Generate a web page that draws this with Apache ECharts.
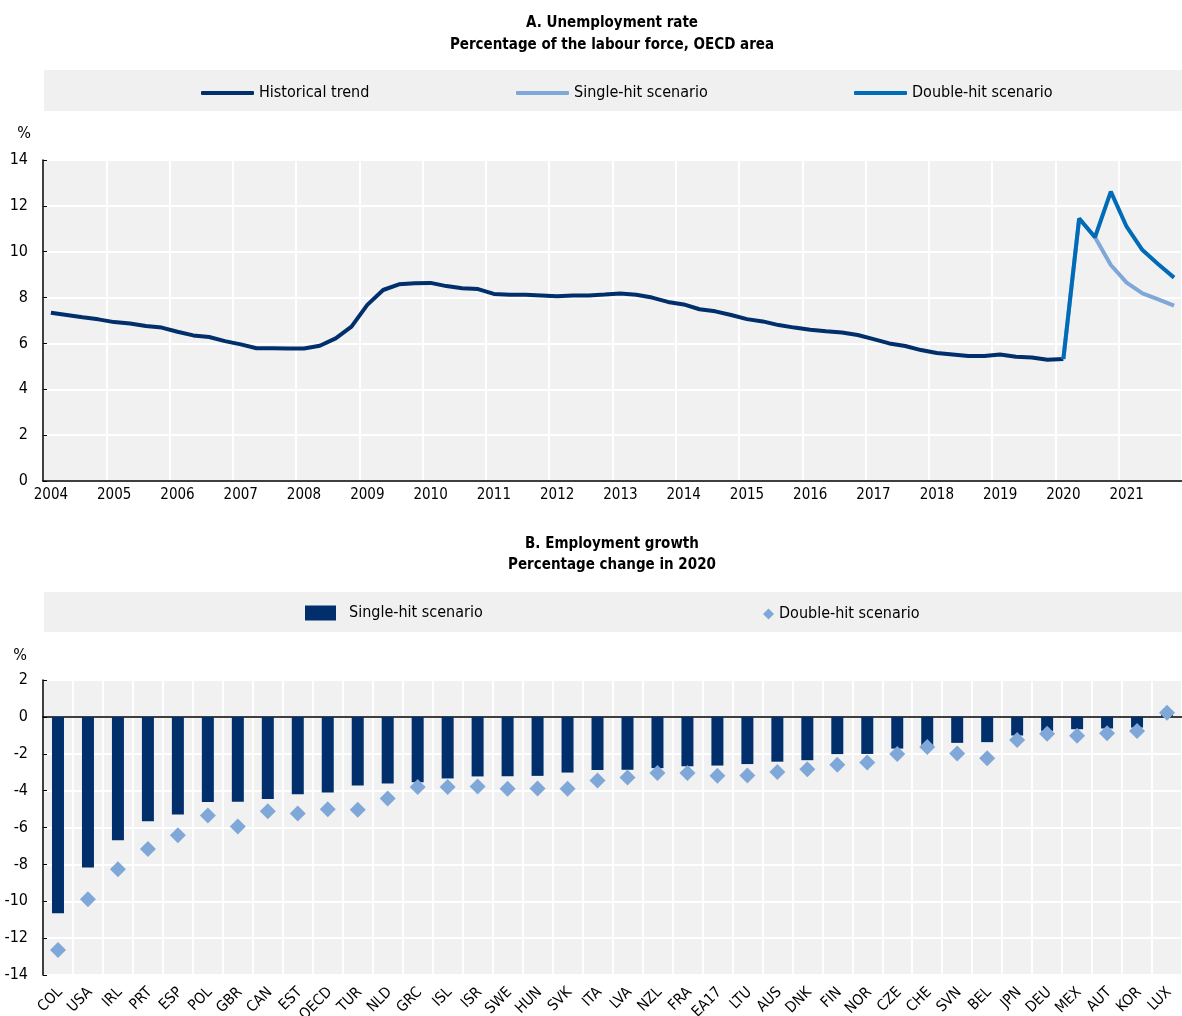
<!DOCTYPE html>
<html>
<head>
<meta charset="utf-8">
<script src="https://cdn.jsdelivr.net/npm/echarts@6/dist/echarts.min.js"></script>
<style>
  html, body { margin: 0; padding: 0; background: #fff; }
  #chart { width: 1182px; height: 1016px; }
</style>
</head>
<body>
<div id="chart"></div>
<script>
// panel A: quarterly unemployment rate, 2004Q1 .. 2021Q4
var years = ['2004','2005','2006','2007','2008','2009','2010','2011','2012',
             '2013','2014','2015','2016','2017','2018','2019','2020','2021'];
// 2004Q1 .. 2020Q1
var historical = [
  7.34, 7.24, 7.14, 7.05, 6.93, 6.87, 6.76, 6.69,
  6.51, 6.35, 6.28, 6.10, 5.96, 5.79, 5.79, 5.78,
  5.78, 5.90, 6.22, 6.73, 7.68, 8.33, 8.58, 8.62,
  8.64, 8.50, 8.41, 8.37, 8.16, 8.12, 8.12, 8.09,
  8.06, 8.09, 8.09, 8.13, 8.18, 8.12, 8.00, 7.81,
  7.70, 7.49, 7.40, 7.24, 7.06, 6.96, 6.80, 6.69,
  6.60, 6.53, 6.48, 6.37, 6.19, 6.00, 5.89, 5.71,
  5.58, 5.52, 5.45, 5.45, 5.52, 5.42, 5.39, 5.29,
  5.32
];
// 2020Q1 .. 2021Q4
var singleHit = [5.32, 11.45, 10.63, 9.42, 8.65, 8.18, 7.92, 7.65];
var doubleHit = [5.32, 11.45, 10.63, 12.62, 11.09, 10.07, 9.45, 8.87];
var projStart = 64;

// panel B: employment growth in 2020
var countries = ['COL','USA','IRL','PRT','ESP','POL','GBR','CAN','EST','OECD',
                 'TUR','NLD','GRC','ISL','ISR','SWE','HUN','SVK','ITA','LVA',
                 'NZL','FRA','EA17','LTU','AUS','DNK','FIN','NOR','CZE','CHE',
                 'SVN','BEL','JPN','DEU','MEX','AUT','KOR','LUX'];
var singleGrowth = [-10.65, -8.17, -6.69, -5.66, -5.30, -4.62, -4.61, -4.46, -4.19, -4.10,
                    -3.72, -3.61, -3.54, -3.34, -3.23, -3.22, -3.20, -3.02, -2.88, -2.87,
                    -2.78, -2.68, -2.64, -2.56, -2.43, -2.35, -2.02, -2.01, -1.72, -1.55,
                    -1.41, -1.37, -1.01, -0.76, -0.67, -0.63, -0.58, 0.10];
var doubleGrowth = [-12.64, -9.89, -8.26, -7.16, -6.42, -5.35, -5.95, -5.12, -5.24, -5.01,
                    -5.04, -4.43, -3.80, -3.80, -3.78, -3.90, -3.88, -3.90, -3.45, -3.29,
                    -3.05, -3.05, -3.19, -3.18, -2.99, -2.84, -2.60, -2.48, -2.02, -1.63,
                    -1.99, -2.24, -1.25, -0.92, -1.03, -0.89, -0.76, 0.23];

var quarters = [];
years.forEach(function (y) {
  ['Q1','Q2','Q3','Q4'].forEach(function (q) { quarters.push(y + '-' + q); });
});

function pad(values, start) {
  var out = [];
  for (var i = 0; i < quarters.length; i++) {
    var j = i - start;
    out.push(j >= 0 && j < values.length ? values[j] : null);
  }
  return out;
}

var FONT = '"Liberation Sans Narrow", "Arial Narrow", "DejaVu Sans Condensed", sans-serif';
var NAVY = '#002F6C', LIGHT = '#7FA8D9', MID = '#006BB6', BAND = '#F0F0F0';

var chart = echarts.init(document.getElementById('chart'));

var txt = { fontFamily: FONT, fontSize: 16, color: '#000' };

function headText(id, x, y, s, bold) {
  return { type: 'text', id: id, style: { x: x, y: y, text: s, textAlign: 'center', textVerticalAlign: 'middle',
           font: (bold ? 'bold 15px ' : '16px ') + FONT, fill: '#000' } };
}

chart.setOption({
  animation: false,
  textStyle: { fontFamily: FONT },
  graphic: [
    { type: 'rect', id: 'bandA', z: -1, shape: { x: 44, y: 70, width: 1138, height: 41 }, style: { fill: BAND } },
    { type: 'rect', id: 'bandB', z: -1, shape: { x: 44, y: 592, width: 1138, height: 40 }, style: { fill: BAND } },
    headText('t1', 612, 23, 'A. Unemployment rate', true),
    headText('t2', 612, 45, 'Percentage of the labour force, OECD area', true),
    headText('t3', 612, 544, 'B. Employment growth', true),
    headText('t4', 612, 565, 'Percentage change in 2020', true),
    headText('p1', 24, 134, '%', false),
    headText('p2', 20, 656, '%', false)
  ],
  legend: [
    { left: 201, top: 85, padding: 0, data: ['Historical trend'], icon: 'roundRect', itemWidth: 53, itemHeight: 4, textStyle: txt },
    { left: 516, top: 85, padding: 0, data: ['Single-hit scenario'], icon: 'roundRect', itemWidth: 53, itemHeight: 4, textStyle: txt },
    { left: 854, top: 85, padding: 0, data: ['Double-hit scenario'], icon: 'roundRect', itemWidth: 53, itemHeight: 4, textStyle: txt },
    { left: 305, top: 605, padding: 0, data: ['Single-hit '], icon: 'rect', itemWidth: 31, itemHeight: 15,
      textStyle: Object.assign({ padding: [0, 0, 0, 8] }, txt),
      formatter: function () { return 'Single-hit scenario'; } },
    { left: 763, top: 606, padding: 0, data: ['Double-hit '], icon: 'diamond', itemWidth: 11, itemHeight: 11,
      textStyle: txt, formatter: function () { return 'Double-hit scenario'; } }
  ],
  grid: [
    { left: 43, top: 160, width: 1146, height: 321, show: true, backgroundColor: '#F1F1F1', borderWidth: 0 },
    { left: 43, top: 680, width: 1146, height: 295, show: true, backgroundColor: '#F1F1F1', borderWidth: 0 }
  ],
  xAxis: [
    {
      gridIndex: 0, type: 'category', data: quarters, boundaryGap: true,
      axisLine: { lineStyle: { color: '#000', width: 1.5 } },
      axisTick: { interval: 3, length: 4, lineStyle: { color: '#000' } },
      axisLabel: { interval: 3, margin: 7, fontSize: 15, color: '#000', fontFamily: FONT,
                   formatter: function (v) { return v.slice(0, 4); } },
      splitLine: { show: true, interval: 3, lineStyle: { color: '#fff', width: 2 } }
    },
    {
      // zero line with upward ticks
      gridIndex: 1, type: 'category', data: countries, boundaryGap: true, position: 'bottom',
      axisLine: { onZero: true, lineStyle: { color: '#000', width: 1.5 } },
      axisTick: { inside: true, interval: 0, length: 4, lineStyle: { color: '#000' } },
      axisLabel: { show: false },
      splitLine: { show: false }
    },
    {
      // category scale for the bars; country labels are placed below (rotated)
      gridIndex: 1, type: 'category', data: countries, boundaryGap: true, position: 'bottom',
      axisLine: { show: false, onZero: false },
      axisTick: { show: false },
      axisLabel: { show: false },
      splitLine: { show: true, interval: 0, lineStyle: { color: '#fff', width: 2 } }
    }
  ],
  yAxis: [
    {
      gridIndex: 0, type: 'value', min: 0, max: 14, interval: 2,
      axisLine: { show: true, lineStyle: { color: '#000', width: 1.5 } },
      axisTick: { show: true, inside: true, length: 4, lineStyle: { color: '#000' } },
      axisLabel: { margin: 15, fontSize: 16, color: '#000', fontFamily: FONT },
      splitLine: { lineStyle: { color: '#fff', width: 2 } }
    },
    {
      gridIndex: 1, type: 'value', min: -14, max: 2, interval: 2,
      axisLine: { show: true, onZero: false, lineStyle: { color: '#000', width: 1.5 } },
      axisTick: { show: true, inside: true, length: 4, lineStyle: { color: '#000' } },
      axisLabel: { margin: 15, fontSize: 16, color: '#000', fontFamily: FONT },
      splitLine: { lineStyle: { color: '#fff', width: 2 } }
    }
  ],
  series: [
    { name: 'Historical trend', type: 'line', xAxisIndex: 0, yAxisIndex: 0, data: pad(historical, 0),
      symbol: 'none', itemStyle: { color: NAVY }, lineStyle: { color: NAVY, width: 4 } },
    { name: 'Single-hit scenario', type: 'line', xAxisIndex: 0, yAxisIndex: 0, data: pad(singleHit, projStart),
      symbol: 'none', itemStyle: { color: LIGHT }, lineStyle: { color: LIGHT, width: 4 } },
    { name: 'Double-hit scenario', type: 'line', xAxisIndex: 0, yAxisIndex: 0, data: pad(doubleHit, projStart),
      symbol: 'none', itemStyle: { color: MID }, lineStyle: { color: MID, width: 4 } },
    { name: 'Single-hit ', type: 'bar', xAxisIndex: 2, yAxisIndex: 1, data: singleGrowth,
      barWidth: 12, itemStyle: { color: NAVY } },
    { name: 'Double-hit ', type: 'scatter', xAxisIndex: 2, yAxisIndex: 1, data: doubleGrowth,
      symbol: 'diamond', symbolSize: 16, itemStyle: { color: LIGHT, opacity: 1 } }
  ]
});

// rotated country labels, anchored on the category positions of the axis
var countryLabels = countries.map(function (c, i) {
  var p = chart.convertToPixel({ xAxisIndex: 2, yAxisIndex: 1 }, [i, -14]);
  return {
    type: 'text', id: 'cl' + i, x: p[0] + 2, y: p[1] + 15, rotation: Math.PI / 4,
    style: { text: c, textAlign: 'right', textVerticalAlign: 'middle', font: '15px ' + FONT, fill: '#000' }
  };
});
chart.setOption({ graphic: countryLabels });
</script>
</body>
</html>
